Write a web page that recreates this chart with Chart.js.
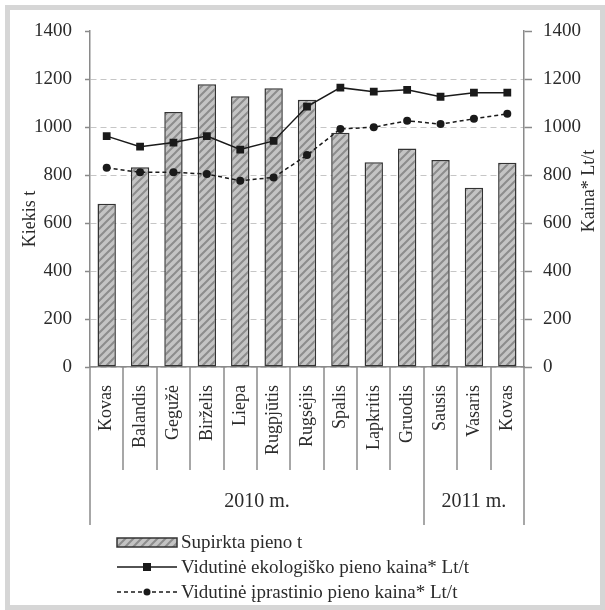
<!DOCTYPE html>
<html>
<head>
<meta charset="utf-8">
<script src="https://cdn.jsdelivr.net/npm/chart.js@4"></script>
<style>
html, body { margin: 0; padding: 0; background: #fff; }
#wrap { position: absolute; left: 0; top: 0; width: 605px; height: 610px; }
#frame { position: absolute; left: 5px; top: 5px; width: 590px; height: 595px; border: 5px solid #d6d6d6; pointer-events: none; }
</style>
</head>
<body>
<div id="wrap"><canvas id="milkChart"></canvas></div>
<div id="frame"></div>
<script>
// duomenys
const months = ['Kovas', 'Balandis', 'Gegužė', 'Birželis', 'Liepa', 'Rugpjūtis', 'Rugsėjis', 'Spalis', 'Lapkritis', 'Gruodis', 'Sausis', 'Vasaris', 'Kovas'];
const years = ['2010 m.', '2011 m.'];
const yearSpans = [10, 3];
const purchased = [680, 832, 1062, 1178, 1128, 1161, 1114, 976, 853, 910, 862, 747, 851];
const ecoPrice = [962, 918, 935, 962, 906, 942, 1085, 1164, 1147, 1155, 1126, 1143, 1143];
const regularPrice = [830, 811, 811, 804, 776, 790, 883, 992, 999, 1026, 1012, 1034, 1055];
const axisTicks = [0, 200, 400, 600, 800, 1000, 1200, 1400];
const seriesNames = ['Supirkta pieno t', 'Vidutinė ekologiško pieno kaina* Lt/t', 'Vidutinė įprastinio pieno kaina* Lt/t'];
const axisTitles = ['Kiekis t', 'Kaina* Lt/t'];

const FONT = "'Liberation Serif', 'DejaVu Serif', serif";
const TEXT = '#2b2b2b';
const AXIS = '#8a8a8a';

// įstrižas užpildas stulpeliams
function makeHatch() {
    const c = document.createElement('canvas');
    c.width = 8;
    c.height = 8;
    const g = c.getContext('2d');
    g.fillStyle = '#c4c4c4';
    g.fillRect(0, 0, 8, 8);
    g.strokeStyle = '#8c8c8c';
    g.lineWidth = 2;
    g.beginPath();
    g.moveTo(0, 8); g.lineTo(8, 0);
    g.moveTo(-1, 1); g.lineTo(1, -1);
    g.moveTo(7, 9); g.lineTo(9, 7);
    g.stroke();
    return g.createPattern(c, 'repeat');
}
const hatch = makeHatch();

function fixedTicks(scale) {
    scale.ticks = axisTicks.map(v => ({ value: v }));
}

// ašių pavadinimai, skirtukai, metai ir legenda
const decorations = {
    id: 'decorations',
    afterDraw(chart) {
        const { ctx, chartArea, scales } = chart;
        const x = scales.x;
        const step = x.getPixelForValue(1) - x.getPixelForValue(0);
        const bottom = chartArea.bottom;

        const edges = [0];
        let acc = 0;
        yearSpans.forEach(n => { acc += n; edges.push(acc); });

        ctx.save();
        ctx.strokeStyle = AXIS;
        ctx.lineWidth = 1.5;
        for (let i = 0; i <= months.length; i++) {
            const px = Math.round(x.getPixelForValue(i) - step / 2);
            const isEdge = edges.includes(i);
            ctx.beginPath();
            ctx.moveTo(px, bottom);
            ctx.lineTo(px, bottom + (isEdge ? 158 : 103));
            ctx.stroke();
        }

        ctx.fillStyle = TEXT;
        ctx.font = '20px ' + FONT;
        ctx.textAlign = 'center';
        ctx.textBaseline = 'middle';
        years.forEach((label, i) => {
            const a = x.getPixelForValue(edges[i]) - step / 2;
            const b = x.getPixelForValue(edges[i + 1]) - step / 2;
            ctx.fillText(label, (a + b) / 2, bottom + 135);
        });

        // ašių pavadinimai
        ctx.font = '18px ' + FONT;
        ctx.save();
        ctx.translate(30, 219);
        ctx.rotate(-Math.PI / 2);
        ctx.fillText(axisTitles[0], 0, 0);
        ctx.restore();
        ctx.save();
        ctx.translate(589, 191);
        ctx.rotate(-Math.PI / 2);
        ctx.fillText(axisTitles[1], 0, 0);
        ctx.restore();

        // legenda
        const lx = 117, lw = 60, tx = 181;
        const rows = [542, 567, 592];
        ctx.textAlign = 'left';
        ctx.font = '19px ' + FONT;

        ctx.fillStyle = hatch;
        ctx.fillRect(lx, rows[0] - 4, lw, 9);
        ctx.strokeStyle = '#333';
        ctx.lineWidth = 1.5;
        ctx.strokeRect(lx, rows[0] - 4, lw, 9);

        ctx.strokeStyle = '#1a1a1a';
        ctx.lineWidth = 1.5;
        ctx.beginPath();
        ctx.moveTo(lx, rows[1]); ctx.lineTo(lx + lw, rows[1]);
        ctx.stroke();
        ctx.fillStyle = '#1a1a1a';
        ctx.fillRect(lx + lw / 2 - 4, rows[1] - 4, 8, 8);

        ctx.setLineDash([4, 3]);
        ctx.beginPath();
        ctx.moveTo(lx, rows[2]); ctx.lineTo(lx + lw, rows[2]);
        ctx.stroke();
        ctx.setLineDash([]);
        ctx.beginPath();
        ctx.arc(lx + lw / 2, rows[2], 3.5, 0, Math.PI * 2);
        ctx.fill();

        ctx.fillStyle = TEXT;
        seriesNames.forEach((name, i) => ctx.fillText(name, tx, rows[i] + 1));
        ctx.restore();
    }
};

const ctx = document.getElementById('milkChart');
new Chart(ctx, {
    data: {
        labels: months,
        datasets: [
            {
                type: 'line',
                label: seriesNames[1],
                data: ecoPrice,
                yAxisID: 'y2',
                borderColor: '#1a1a1a',
                borderWidth: 1.5,
                pointStyle: 'rect',
                pointRadius: 5.5,
                pointBackgroundColor: '#1a1a1a',
                pointBorderWidth: 0,
                tension: 0,
                order: 1
            },
            {
                type: 'line',
                label: seriesNames[2],
                data: regularPrice,
                yAxisID: 'y2',
                borderColor: '#1a1a1a',
                borderWidth: 1.5,
                borderDash: [4, 3],
                pointStyle: 'circle',
                pointRadius: 4,
                pointBackgroundColor: '#1a1a1a',
                pointBorderWidth: 0,
                tension: 0,
                order: 1
            },
            {
                type: 'bar',
                label: seriesNames[0],
                data: purchased,
                yAxisID: 'y',
                backgroundColor: hatch,
                borderColor: '#333',
                borderWidth: 1.5,
                borderSkipped: false,
                barPercentage: 0.55,
                categoryPercentage: 1,
                order: 2
            }
        ]
    },
    options: {
        responsive: true,
        maintainAspectRatio: false,
        animation: false,
        layout: { padding: { top: 31, left: 0, right: 0, bottom: 0 } },
        plugins: {
            legend: { display: false },
            tooltip: { enabled: false }
        },
        scales: {
            x: {
                grid: { display: false, drawTicks: false },
                border: { color: AXIS, width: 1.5 },
                ticks: {
                    color: TEXT,
                    font: { family: FONT, size: 18 },
                    minRotation: 90,
                    maxRotation: 90,
                    autoSkip: false,
                    padding: 18
                },
                afterFit(scale) { scale.height = 243; }
            },
            y: {
                position: 'left',
                min: 0,
                max: 1400,
                afterBuildTicks: fixedTicks,
                grid: {
                    color: c => (c.tick && c.tick.value === 1400) ? 'rgba(0,0,0,0)' : '#c6c6c6',
                    lineWidth: 1,
                    tickColor: AXIS,
                    tickLength: 5,
                    tickWidth: 1.5
                },
                border: { color: AXIS, width: 1.5, dash: [6, 4] },
                ticks: {
                    color: TEXT,
                    font: { family: FONT, size: 19 },
                    padding: 13,
                    callback: v => String(v)
                },
                afterFit(scale) { scale.width = 90; }
            },
            y2: {
                position: 'right',
                min: 0,
                max: 1400,
                afterBuildTicks: fixedTicks,
                grid: {
                    drawOnChartArea: false,
                    color: AXIS,
                    tickColor: AXIS,
                    tickLength: 8,
                    tickWidth: 1.5
                },
                border: { color: AXIS, width: 1.5 },
                ticks: {
                    color: TEXT,
                    font: { family: FONT, size: 19 },
                    padding: 11,
                    callback: v => String(v)
                },
                afterFit(scale) { scale.width = 81; }
            }
        }
    },
    plugins: [decorations]
});
</script>
</body>
</html>
